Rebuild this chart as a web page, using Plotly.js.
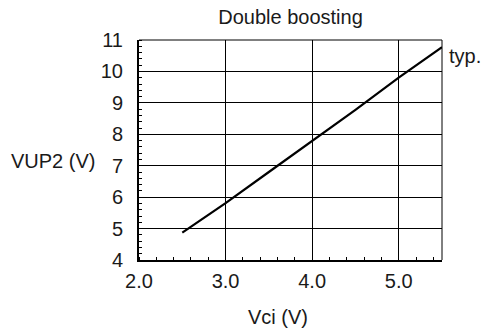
<!DOCTYPE html>
<html>
<head>
<meta charset="utf-8">
<script src="https://cdn.plot.ly/plotly-3.0.1.min.js"></script>
<style>html,body{margin:0;padding:0;background:#fff;}#chart{width:483px;height:332px;}</style>
</head>
<body>
<div id="chart"></div>
<script>
// Data
const vci = [2.5, 3.0, 3.5, 4.0, 4.5, 5.0, 5.5];
const vup2 = [4.87, 5.81, 6.8, 7.79, 8.78, 9.8, 10.77];
const xTickVals = [2, 3, 4, 5];
const xTickText = ['2.0', '3.0', '4.0', '5.0'];
const yTickVals = [4, 5, 6, 7, 8, 9, 10, 11];
const chartTitle = 'Double boosting';
const xTitle = 'Vci (V)';
const yTitle = 'VUP2 (V)';
const seriesLabel = 'typ.';

const FONT = 'Liberation Sans, Arial, sans-serif';
const FS = 20;
const TXT = '#1a1a1a';

const trace = {
  x: vci, y: vup2, mode: 'lines', type: 'scatter',
  line: {color: '#000', width: 2.2}, hoverinfo: 'skip', showlegend: false
};

const layout = {
  width: 483, height: 332,
  margin: {l: 139, r: 41, t: 40, b: 72, pad: 0},
  paper_bgcolor: '#fff', plot_bgcolor: '#fff',
  font: {family: FONT, size: FS, color: TXT},
  showlegend: false,
  title: {text: chartTitle, x: 0.5, xref: 'paper', xanchor: 'center',
          y: 0.948, yref: 'container', yanchor: 'middle',
          font: {family: FONT, size: FS, color: TXT}},
  xaxis: {
    range: [2.0, 5.5], tickvals: xTickVals, ticktext: xTickText,
    showgrid: true, gridcolor: '#000', gridwidth: 1,
    showline: true, linecolor: '#000', linewidth: 2, mirror: false,
    ticks: '', ticklabelstandoff: 2, zeroline: false,
    tickfont: {family: FONT, size: FS, color: TXT},
    minor: {dtick: 0.2, tick0: 2, ticks: 'inside', ticklen: 3, tickcolor: '#000', tickwidth: 1, showgrid: false},
    fixedrange: true
  },
  yaxis: {
    range: [4, 11], tickvals: yTickVals,
    showgrid: true, gridcolor: '#000', gridwidth: 1,
    showline: true, linecolor: '#000', linewidth: 2, mirror: false,
    ticks: '', ticklabelstandoff: 10, zeroline: false,
    tickfont: {family: FONT, size: FS, color: TXT},
    minor: {dtick: 0.2, tick0: 4, ticks: 'inside', ticklen: 3, tickcolor: '#000', tickwidth: 1, showgrid: false},
    fixedrange: true
  },
  shapes: [
    {type: 'line', xref: 'paper', yref: 'paper', x0: 1, x1: 1, y0: 0, y1: 1, line: {color: '#000', width: 1}},
    {type: 'line', xref: 'paper', yref: 'paper', x0: 0, x1: 1, y0: 1, y1: 1, line: {color: '#000', width: 1}}
  ],
  annotations: [
    {text: seriesLabel, xref: 'paper', yref: 'paper', x: (447 - 139) / 303, xanchor: 'left',
     y: (332 - 72 - 56) / 220, yanchor: 'middle', showarrow: false,
     font: {family: FONT, size: FS, color: TXT}},
    {text: yTitle, xref: 'paper', yref: 'paper', x: (9 - 139) / 303, xanchor: 'left',
     y: (332 - 72 - 161) / 220, yanchor: 'middle', showarrow: false,
     font: {family: FONT, size: FS, color: TXT}},
    {text: xTitle, xref: 'paper', yref: 'paper', x: (277.5 - 139) / 303, xanchor: 'center',
     y: -(316.5 - 260) / 220, yanchor: 'middle', showarrow: false,
     font: {family: FONT, size: FS, color: TXT}}
  ]
};

Plotly.newPlot('chart', [trace], layout, {staticPlot: true, displayModeBar: false});
</script>
</body>
</html>
